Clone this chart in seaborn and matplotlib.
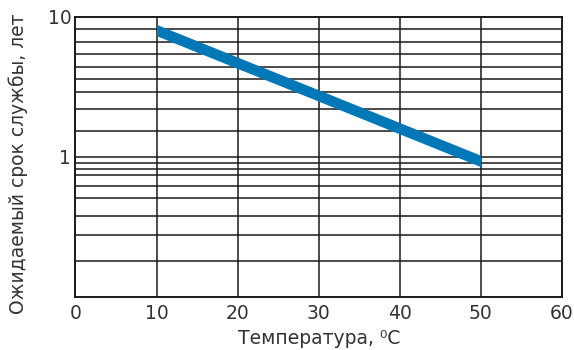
import matplotlib
matplotlib.use("Agg")
import matplotlib.pyplot as plt
import matplotlib.ticker as mticker
from matplotlib.patches import Rectangle
import pandas as pd
import seaborn as sns

# Expected service life vs. temperature (straight line on the log scale)
temperature = [10, 50]
service_life = [8.0, 0.93]

x_ticks = [0, 10, 20, 30, 40, 50, 60]
x_tick_labels = ["0", "10", "20", "30", "40", "50", "60"]
y_ticks = [1, 10]
y_tick_labels = ["1", "10"]

# Horizontal rulings of the chart paper
y_grid = [8.17, 6.64, 5.42, 4.40, 3.58, 2.91, 2.19, 1.52, 1.0,
          0.902, 0.821, 0.748, 0.624, 0.512, 0.381, 0.276, 0.181]
x_grid = [10, 20, 30, 40, 50]

sns.set_style("white")
plt.rcParams["font.family"] = ["DejaVu Sans"]

fig = plt.figure(figsize=(5.74, 3.5), dpi=100)
ax = fig.add_axes([0.1315, 0.1514, 0.8475, 0.8006])

ax.set_yscale("log")
ax.set_xlim(0, 60)
ax.set_ylim(0.1, 10)

for yv in y_grid:
    ax.axhline(yv, color="#1a1a1a", lw=1.1, zorder=1)
for xv in x_grid:
    ax.axvline(xv, color="#1a1a1a", lw=1.1, zorder=1)

df = pd.DataFrame({"t": temperature, "life": service_life})
sns.lineplot(data=df, x="t", y="life", ax=ax, color="#0078b8",
             linewidth=7.6, zorder=3)
line = ax.lines[-1]
line.set_solid_capstyle("projecting")
clip = Rectangle((min(temperature), 0.01), max(temperature) - min(temperature), 100,
                 transform=ax.transData, visible=False)
ax.add_patch(clip)
line.set_clip_path(clip)

ax.set_xticks(x_ticks, x_tick_labels)
ax.set_yticks(y_ticks, y_tick_labels)
ax.yaxis.set_minor_locator(mticker.NullLocator())
ax.tick_params(axis="both", length=0, labelsize=13.5, colors="#333333")
ax.tick_params(axis="x", pad=5)
ax.tick_params(axis="y", pad=3)

for sp in ax.spines.values():
    sp.set_color("#1a1a1a")
    sp.set_linewidth(1.4)

ax.set_xlabel("Температура, \u2070C", fontsize=13.5, color="#333333", labelpad=4)
ax.set_ylabel("Ожидаемый срок службы, лет", fontsize=13.5, color="#333333")
ax.yaxis.set_label_coords(-0.098, 0.475)

fig.savefig("out.png", dpi=100)
